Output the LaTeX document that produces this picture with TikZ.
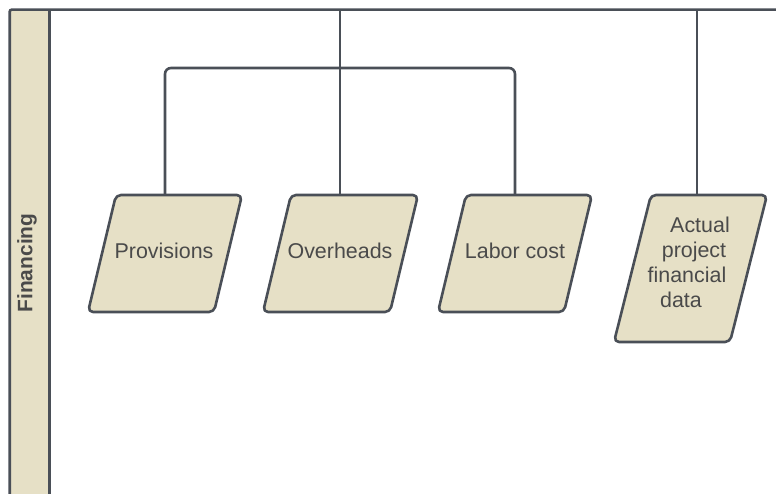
\documentclass[tikz,border=0pt]{standalone}
\usepackage{fontspec}
\setmainfont{Liberation Sans}
\definecolor{edgegrey}{HTML}{4A4F57}
\definecolor{sand}{HTML}{E6E0C6}
\definecolor{ink}{HTML}{4A4A4A}
\begin{document}
\begin{tikzpicture}[x=1bp,y=-1bp,
  frameline/.style={draw=edgegrey, line width=2.6bp},
  datashape/.style={draw=edgegrey, fill=sand, line width=2.6bp, rounded corners=5bp, line join=round},
  label/.style={text=ink, font=\fontsize{21.5}{25.5}\selectfont, inner sep=0pt, anchor=base},
  link/.style={draw=edgegrey, line width=2.6bp, rounded corners=6bp}]
\useasboundingbox (0,0) rectangle (776,494);

% swimlane header and frame
\fill[sand] (9.7,9.7) rectangle (49.2,494);
\draw[frameline, rounded corners=2bp] (9.7,494) -- (9.7,9.7) -- (776,9.7);
\draw[frameline] (49.2,9.7) -- (49.2,494);
\node[rotate=90, text=ink, font=\bfseries\fontsize{21}{24}\selectfont, inner sep=0pt] (lane) at (27,263) {Financing};

% data shapes (parallelograms)
\draw[datashape] (116,195) -- (242,195) -- (214,312) -- (88,312) -- cycle;
\draw[datashape] (291,195) -- (418,195) -- (390,312) -- (263,312) -- cycle;
\draw[datashape] (466,195) -- (592,195) -- (564,312) -- (438,312) -- cycle;
\draw[datashape] (651,195) -- (767,195) -- (730,342) -- (614,342) -- cycle;

\node[label] (prov) at (164,259) {Provisions};
\node[label] (over) at (340,259) {Overheads};
\node[label] (labor) at (515,259) {Labor cost};
\node[label] (act1) at (700,233) {Actual};
\node[label] (act2) at (694,258) {project};
\node[label] (act3) at (687,283) {financial};
\node[label] (act4) at (681,308) {data};

% connection points
\coordinate (provtop) at (165,195);
\coordinate (overtop) at (340,195);
\coordinate (labortop) at (515,195);
\coordinate (acttop) at (697,195);
\coordinate (busA) at (340,9.7);
\coordinate (busB) at (697,9.7);

% connectors
\draw[link] (provtop) |- (labortop |- 0,68) -- (labortop);
\draw[link] (busA) -- (overtop);
\draw[link] (busB) -- (acttop);
\end{tikzpicture}
\end{document}
